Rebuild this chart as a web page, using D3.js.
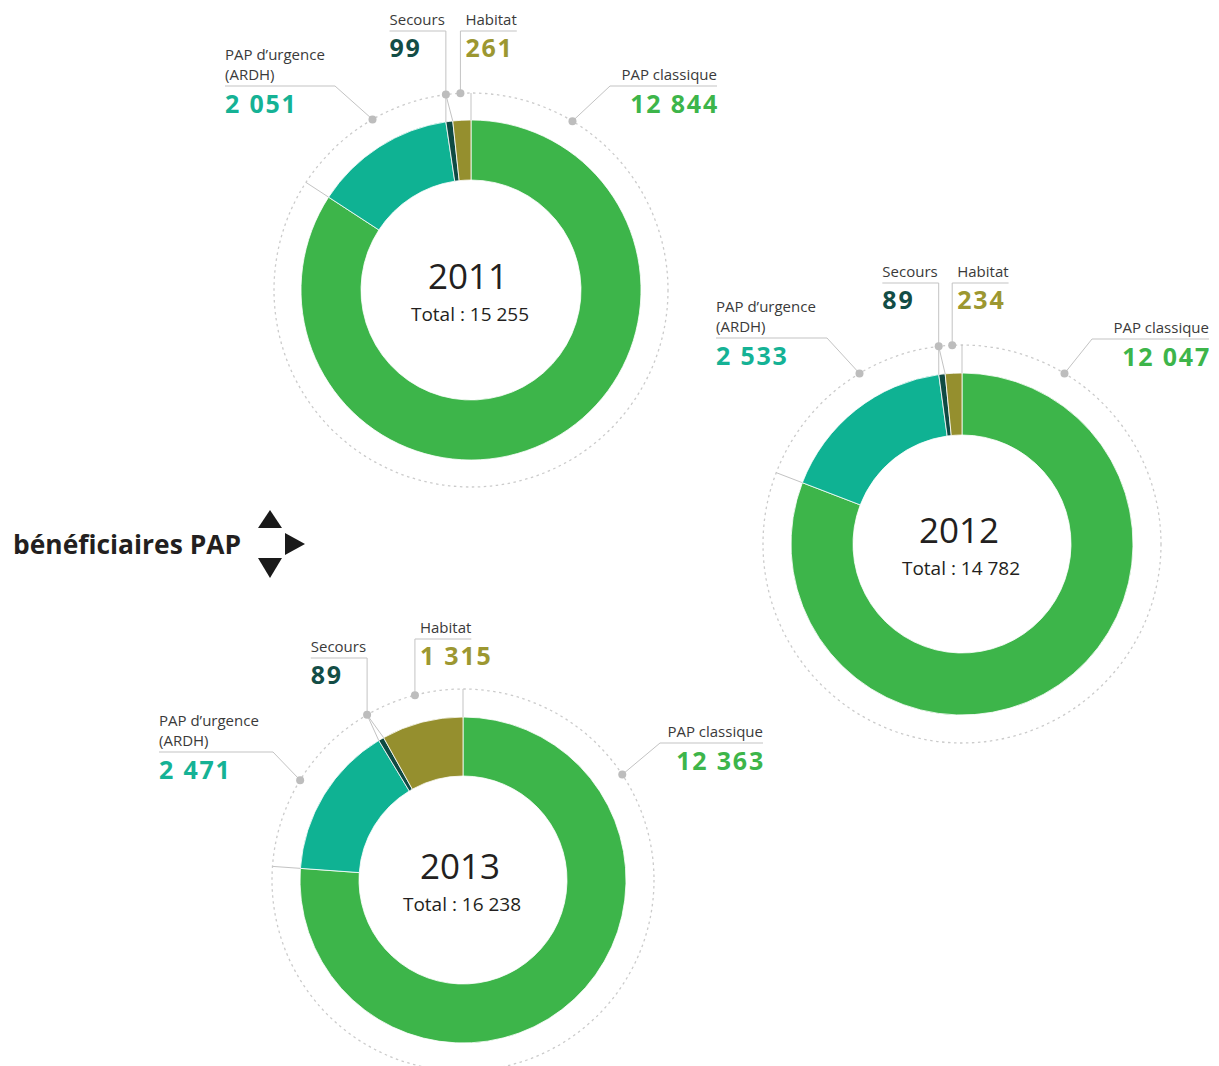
<!DOCTYPE html>
<html><head><meta charset="utf-8">
<script src="https://cdn.jsdelivr.net/npm/d3@7"></script>
<style>body{margin:0;background:#fff} svg{display:block}</style>
</head><body>
<svg id="chart" width="1219" height="1066"></svg>
<script>
// ---- data ----
const years = ["2011", "2012", "2013"];
const categories = ["PAP classique", "PAP d’urgence (ARDH)", "Secours", "Habitat"];
const papClassique = [12844, 12047, 12363];
const papUrgence = [2051, 2533, 2471];
const secours = [99, 89, 89];
const habitat = [261, 234, 1315];
const totals = [15255, 14782, 16238];
const title = "bénéficiaires PAP";

// ---- styles / layout ----
const keys = ["classique", "urgence", "secours", "habitat"];
const fillColors = {classique: "#3db54a", urgence: "#0fb293", secours: "#0f4a43", habitat: "#958f2e"};
const numColors = {classique: "#3db54a", urgence: "#15b295", secours: "#134d46", habitat: "#9c9731"};
const layout = [
  {cx: 471, cy: 290, rO: 170, rI: 110, rD: 197, aU: -30, aC: 31,
   U: {x: 225, B: 80, kneeX: 335}, C: {xr: 717, B: 80, kneeX: 610}, S: {b: 25}, H: {b: 25}},
  {cx: 962, cy: 544, rO: 171, rI: 109, rD: 199, aU: -31, aC: 31,
   U: {x: 716, B: 332, kneeX: 827}, C: {xr: 1209, B: 333, kneeX: 1092}, S: {b: 277}, H: {b: 277}},
  {cx: 463, cy: 880, rO: 163, rI: 104, rD: 191, aU: -58.5, aC: 56.5,
   U: {x: 159, B: 746, kneeX: 273}, C: {xr: 763, B: 737, kneeX: 660}, S: {b: 652}, H: {b: 633}}
];

const FONT = "'Open Sans', 'Noto Sans', sans-serif";
const fmt = d3.formatLocale({decimal: ",", thousands: " ", grouping: [3], currency: ["", " €"]}).format(",d");
const lineColor = "#c3c3c3";
const dotColor = "#bdbdbd";

const svg = d3.select("#chart").style("font-family", FONT);
const pie = d3.pie().sort(null).value(d => d.value).startAngle(0).endAngle(2 * Math.PI);

function pt(L, a, r) { return [L.cx + r * Math.sin(a), L.cy - r * Math.cos(a)]; }
const rad = deg => deg * Math.PI / 180;

years.forEach((year, i) => {
  const L = layout[i];
  const values = [papClassique[i], papUrgence[i], secours[i], habitat[i]];
  const data = keys.map((k, j) => ({key: k, label: categories[j], value: values[j]}));
  const arcs = pie(data);
  const byKey = {};
  arcs.forEach(a => byKey[a.data.key] = a);

  const g = svg.append("g");

  // dotted circle
  g.append("circle").attr("cx", L.cx).attr("cy", L.cy).attr("r", L.rD)
    .attr("fill", "none").attr("stroke", "#cbcbcb").attr("stroke-width", 1.3)
    .attr("stroke-dasharray", "2.5 3.5");

  // donut
  const arc = d3.arc().innerRadius(L.rI).outerRadius(L.rO);
  g.append("g").attr("transform", `translate(${L.cx},${L.cy})`)
    .selectAll("path").data(arcs).join("path")
    .attr("d", arc).attr("fill", d => fillColors[d.data.key])
    .attr("stroke", "#ffffff").attr("stroke-width", 0.8);

  // boundary ticks at both ends of the PAP classique arc
  const c = byKey.classique;
  [c.startAngle, c.endAngle].forEach(a => {
    const p1 = pt(L, a, L.rO), p2 = pt(L, a, L.rD);
    g.append("line").attr("x1", p1[0]).attr("y1", p1[1]).attr("x2", p2[0]).attr("y2", p2[1])
      .attr("stroke", lineColor).attr("stroke-width", 1);
  });

  // dots
  const dotU = pt(L, rad(L.aU), L.rD);
  const dotC = pt(L, rad(L.aC), L.rD);
  const s = byKey.secours, h = byKey.habitat;
  const dotS = pt(L, (s.startAngle + s.endAngle) / 2, L.rD);
  const dotH = pt(L, (h.startAngle + h.endAngle) / 2, L.rD);

  // secours wedge lines to the segment
  [s.startAngle, s.endAngle].forEach(a => {
    const p = pt(L, a, L.rO);
    g.append("line").attr("x1", dotS[0]).attr("y1", dotS[1]).attr("x2", p[0]).attr("y2", p[1])
      .attr("stroke", lineColor).attr("stroke-width", 1);
  });

  const lbl = (x, y, txt, anchor) => g.append("text").attr("x", x).attr("y", y)
    .attr("font-size", 15).attr("fill", "#3a3a3a").attr("text-anchor", anchor || "start").text(txt);
  const num = (x, y, v, key, anchor) => g.append("text").attr("x", x).attr("y", y)
    .attr("font-size", 25).attr("font-weight", 700).attr("letter-spacing", 1.8)
    .attr("fill", numColors[key]).attr("text-anchor", anchor || "start").text(fmt(v));
  const path = d => g.append("path").attr("d", d).attr("fill", "none")
    .attr("stroke", lineColor).attr("stroke-width", 1);

  // PAP d'urgence (ARDH)
  const parts = categories[1].split(" (");
  lbl(L.U.x, L.U.B - 20, parts[0]);
  lbl(L.U.x, L.U.B, "(" + parts[1]);
  num(L.U.x, L.U.B + 33, papUrgence[i], "urgence");
  path(`M${L.U.x},${L.U.B + 6}H${L.U.kneeX}L${dotU[0]},${dotU[1]}`);

  // PAP classique
  lbl(L.C.xr, L.C.B, categories[0], "end");
  num(L.C.xr + 2, L.C.B + 33, papClassique[i], "classique", "end");
  path(`M${L.C.xr},${L.C.B + 6}H${L.C.kneeX}L${dotC[0]},${dotC[1]}`);

  // Secours (text ends at dot x)
  const tS = lbl(dotS[0] - 1, L.S.b, categories[2], "end");
  const sx = tS.node().getBBox().x;
  num(sx, L.S.b + 32, secours[i], "secours");
  path(`M${sx},${L.S.b + 6}H${dotS[0]}V${dotS[1]}`);

  // Habitat (text starts right of dot x)
  const tH = lbl(dotH[0] + 5, L.H.b, categories[3]);
  const bb = tH.node().getBBox();
  num(dotH[0] + 5, L.H.b + 32, habitat[i], "habitat");
  path(`M${dotH[0]},${dotH[1]}V${L.H.b + 6}H${bb.x + bb.width}`);

  // dots on top
  [dotU, dotC, dotS, dotH].forEach(p => g.append("circle").attr("cx", p[0]).attr("cy", p[1])
    .attr("r", 4).attr("fill", dotColor));

  // centre texts
  g.append("text").attr("x", L.cx - 3).attr("y", L.cy - 1).attr("text-anchor", "middle")
    .attr("font-size", 35).attr("fill", "#231f20").text(year);
  g.append("text").attr("x", L.cx - 1).attr("y", L.cy + 31).attr("text-anchor", "middle")
    .attr("font-size", 19).attr("fill", "#231f20").text("Total : " + fmt(totals[i]));
});

// title and arrows
svg.append("text").attr("x", 13).attr("y", 554).attr("font-size", 27).attr("font-weight", 700)
  .attr("fill", "#231f20").attr("textLength", 228).attr("lengthAdjust", "spacingAndGlyphs").text(title);
const arrows = [
  [[258, 528], [282, 528], [270, 510]],
  [[285, 533], [285, 555], [305, 544]],
  [[258, 558], [282, 558], [270, 578]]
];
svg.append("g").selectAll("path").data(arrows).join("path")
  .attr("d", d => d3.line()(d) + "Z").attr("fill", "#1a1a1a");
</script>
</body></html>
